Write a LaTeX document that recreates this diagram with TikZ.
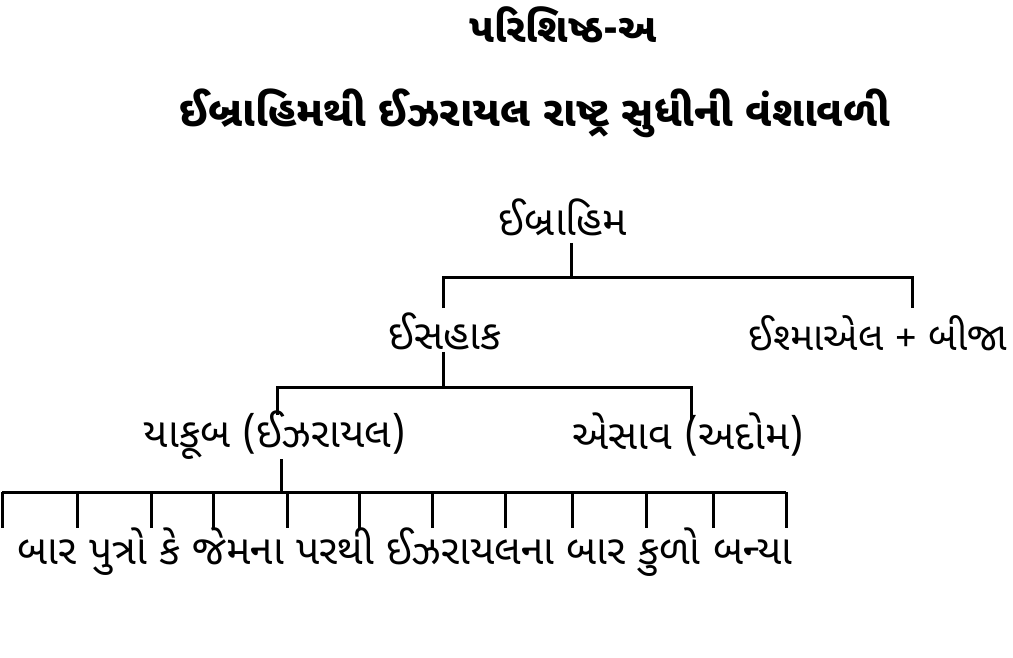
\documentclass[tikz,border=0pt]{standalone}
\usepackage{fontspec}
\newfontfamily\guj[Script=Gujarati]{Noto Sans Gujarati UI}
\usetikzlibrary{positioning}

\begin{document}
\begin{tikzpicture}[x=1pt, y=1pt]
      % fix the page to the size of the reference
      \useasboundingbox (0,0) rectangle (1013,-658);
      \tikzstyle{heading} = [font=\guj\bfseries\fontsize{40}{44}\selectfont, inner sep=0pt]
      \tikzstyle{title} = [font=\guj\bfseries\fontsize{42}{46}\selectfont, inner sep=0pt]
      \tikzstyle{person} = [font=\guj\fontsize{41}{45}\selectfont, inner sep=0pt]
      \tikzstyle{branch} = [draw, line width=3pt]
        \node [heading] (appendix) at (563,-25) {પરિશિષ્ઠ-અ};
        \node [title] (title) at (535,-113) {ઈબ્રાહિમથી ઈઝરાયલ રાષ્ટ્ર સુધીની વંશાવળી};
        \node [person] (abraham) at (563,-217) {ઈબ્રાહિમ};
        \node [person] (isaac) at (445,-331) {ઈસહાક};
        \node [person, font=\guj\fontsize{39}{43}\selectfont] (ishmael) at (878,-333) {ઈશ્માએલ + બીજા};
        \node [person] (jacob) at (275,-435) {યાકૂબ (ઈઝરાયલ)};
        \node [person] (esau) at (688,-435) {એસાવ (અદોમ)};
        \node [person] (tribes) at (405,-552) {બાર પુત્રો કે જેમના પરથી ઈઝરાયલના બાર કુળો બન્યા};
        % forks of the tree
        \coordinate (abraham fork) at (571,-277);
        \coordinate (isaac top) at (443,-308);
        \coordinate (ishmael top) at (912,-308);
        \coordinate (isaac fork) at (443,-387);
        \coordinate (jacob top) at (277,-415);
        \coordinate (esau top) at (691,-420);
        \coordinate (jacob fork) at (281,-492);
        \coordinate (tribes left) at (2,-492);
        \coordinate (tribes right) at (786,-492);
        \path [branch] ([yshift=-7pt]abraham.south -| abraham fork) -- (abraham fork);
        \path [branch] (isaac top) |- (abraham fork) -| (ishmael top);
        \path [branch] ([yshift=-2pt]isaac.south -| isaac fork) -- (isaac fork);
        \path [branch] (jacob top) |- (isaac fork) -| (esau top);
        \path [branch] (jacob.south -| jacob fork) -- (jacob fork);
        \path [branch] (tribes left) -- (tribes right);
        \foreach \x in {2,77,151,213,287,359,432,505,572,646,713,786}
          \path [branch] (tribes left -| \x,0) -- ++(0,-36);
      \end{tikzpicture}
\end{document}
